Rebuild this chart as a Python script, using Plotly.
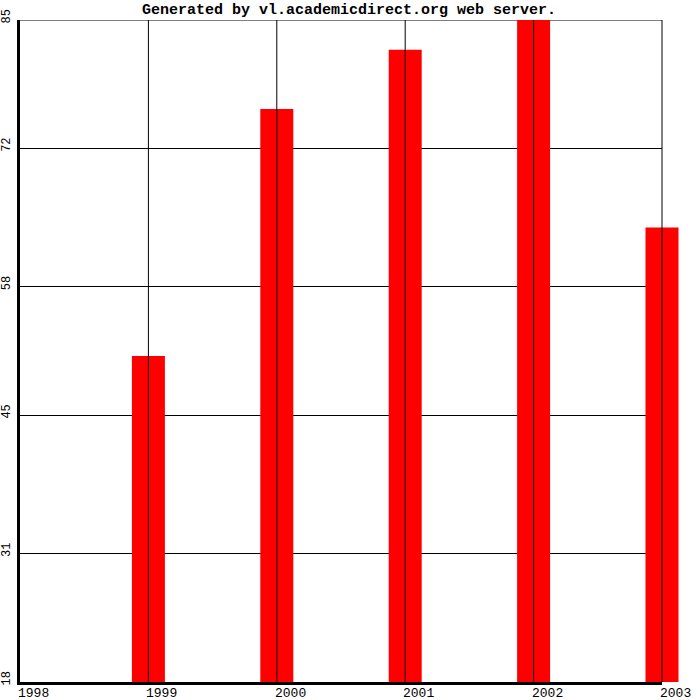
import plotly.graph_objects as go

# values
years = [1999, 2000, 2001, 2002, 2003]
values = [51, 76, 82, 85, 64]
x_ticks = [1998, 1999, 2000, 2001, 2002, 2003]
y_ticks = [18, 31, 45, 58, 72, 85]
y_min, y_max = 18, 85

title = "Generated by vl.academicdirect.org web server."
mono = "Liberation Mono, DejaVu Sans Mono, monospace"

W, H = 700, 700
m_l, m_r, m_t, m_b = 20, 0, 20, 18
plot_w = W - m_l - m_r
frame_right = 662  # pixel where 2003 sits
dom_end = (frame_right - m_l) / plot_w
px_per_year = (frame_right - m_l) / (x_ticks[-1] - x_ticks[0])
x2_max = x_ticks[0] + plot_w / px_per_year

fig = go.Figure()

# top frame line, behind the bars
fig.add_trace(go.Scatter(x=[x_ticks[0], x_ticks[-1]], y=[y_max, y_max], mode="lines",
                         line=dict(color="black", width=1), cliponaxis=False,
                         hoverinfo="skip", showlegend=False))

# bars live on a second, wider subplot so the last one is not clipped
fig.add_trace(go.Bar(
    x=years, y=[v - y_min for v in values], base=y_min,
    width=33 / px_per_year, marker=dict(color="#ff0000", line=dict(width=0)),
    xaxis="x2", yaxis="y2", hoverinfo="skip", showlegend=False,
))

# vertical grid lines are drawn over the bars
vx, vy = [], []
for t in x_ticks[1:]:
    vx += [t, t, None]
    vy += [y_min, y_max, None]
fig.add_trace(go.Scatter(
    x=vx, y=vy, mode="lines", line=dict(color="black", width=1),
    xaxis="x2", yaxis="y2", hoverinfo="skip", showlegend=False,
))

# year labels start at their tick, like the original
for t in x_ticks:
    fig.add_annotation(x=t, xref="x", y=0, yref="paper", text=str(t),
                       showarrow=False, xanchor="left", yanchor="top",
                       xshift=-4, yshift=-2, font=dict(family=mono, size=13))

fig.update_layout(
    width=W, height=H,
    margin=dict(l=m_l, r=m_r, t=m_t, b=m_b, pad=0, autoexpand=False),
    paper_bgcolor="white", plot_bgcolor="rgba(0,0,0,0)",
    font=dict(family=mono, color="black", size=12),
    title=dict(text="<b>" + title + "</b>", x=349 / W, xanchor="center",
               y=1 - 9 / H, yanchor="middle", font=dict(family=mono, size=15)),
    xaxis=dict(domain=[0, dom_end], range=[x_ticks[0], x_ticks[-1]], automargin=False,
               tickmode="array", tickvals=x_ticks, showticklabels=False,
               showgrid=False, zeroline=False, showline=True, linecolor="black",
               linewidth=3, ticks=""),
    yaxis=dict(domain=[0, 1], range=[y_min, y_max], automargin=False,
               tickmode="array", tickvals=y_ticks, ticktext=[str(t) for t in y_ticks],
               showgrid=True, gridcolor="black", gridwidth=1, zeroline=False,
               showline=True, linecolor="black", linewidth=3, ticks="",
               tickangle=-90, ticklabelstandoff=2, ticklabelshift=-2,
               tickfont=dict(size=12)),
    xaxis2=dict(domain=[0, 1], range=[x_ticks[0], x2_max], anchor="y2",
                visible=False, showgrid=False, zeroline=False),
    yaxis2=dict(domain=[0, 1], range=[y_min, y_max], anchor="x2",
                visible=False, showgrid=False, zeroline=False),
)

# drop the browser's default page margin so the figure sits at the corner
fig.write_html("out.html", config={"displayModeBar": False},
               post_script="document.body.style.margin='0';")
